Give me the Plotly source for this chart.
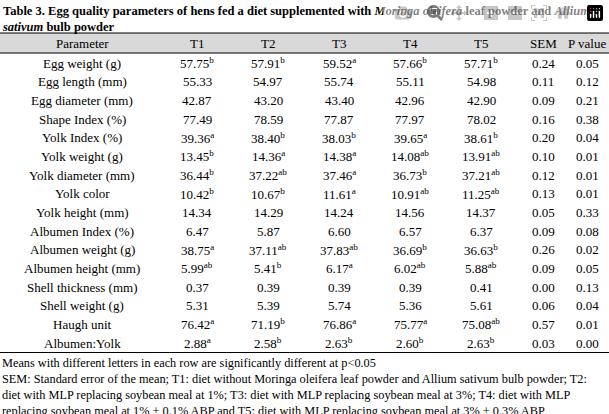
import plotly.graph_objects as go

parameters = ["Egg weight (g)", "Egg length (mm)", "Egg diameter (mm)", "Shape Index (%)",
              "Yolk Index (%)", "Yolk weight (g)", "Yolk diameter (mm)", "Yolk color",
              "Yolk height (mm)", "Albumen Index (%)", "Albumen weight (g)", "Albumen height (mm)",
              "Shell thickness (mm)", "Shell weight (g)", "Haugh unit", "Albumen:Yolk"]
t1 = ["57.75", "55.33", "42.87", "77.49", "39.36", "13.45", "36.44", "10.42", "14.34", "6.47", "38.75", "5.99", "0.37", "5.31", "76.42", "2.88"]
t1_sup = ["b", "", "", "", "a", "b", "b", "b", "", "", "a", "ab", "", "", "a", "a"]
t2 = ["57.91", "54.97", "43.20", "78.59", "38.40", "14.36", "37.22", "10.67", "14.29", "5.87", "37.11", "5.41", "0.39", "5.39", "71.19", "2.58"]
t2_sup = ["b", "", "", "", "b", "a", "ab", "b", "", "", "ab", "b", "", "", "b", "b"]
t3 = ["59.52", "55.74", "43.40", "77.87", "38.03", "14.38", "37.46", "11.61", "14.24", "6.60", "37.83", "6.17", "0.39", "5.74", "76.86", "2.63"]
t3_sup = ["a", "", "", "", "b", "a", "a", "a", "", "", "ab", "a", "", "", "a", "b"]
t4 = ["57.66", "55.11", "42.96", "77.97", "39.65", "14.08", "36.73", "10.91", "14.56", "6.57", "36.69", "6.02", "0.39", "5.36", "75.77", "2.60"]
t4_sup = ["b", "", "", "", "a", "ab", "b", "ab", "", "", "b", "ab", "", "", "a", "b"]
t5 = ["57.71", "54.98", "42.90", "78.02", "38.61", "13.91", "37.21", "11.25", "14.37", "6.37", "36.63", "5.88", "0.41", "5.61", "75.08", "2.63"]
t5_sup = ["b", "", "", "", "b", "ab", "ab", "ab", "", "", "b", "ab", "", "", "ab", "b"]
sem = ["0.24", "0.11", "0.09", "0.16", "0.20", "0.10", "0.12", "0.13", "0.05", "0.09", "0.26", "0.09", "0.00", "0.06", "0.57", "0.03"]
pval = ["0.05", "0.12", "0.21", "0.38", "0.04", "0.01", "0.01", "0.01", "0.33", "0.08", "0.02", "0.05", "0.13", "0.04", "0.01", "0.00"]
headers = ["Parameter", "T1", "T2", "T3", "T4", "T5", "SEM", "P value"]


def with_sup(vals, sups):
    return [v + ("<sup>%s</sup>" % s if s else "") for v, s in zip(vals, sups)]


FONT = "Liberation Serif"
W, H = 609, 414
cols = [parameters, with_sup(t1, t1_sup), with_sup(t2, t2_sup), with_sup(t3, t3_sup),
        with_sup(t4, t4_sup), with_sup(t5, t5_sup), sem, pval]
col_x = [82, 197, 268, 339, 410, 481, 543, 587]   # column centres (px)
head_top, head_bot, row_h = 33, 53, 18.67
first_row = 63

fig = go.Figure()
fig.add_shape(type="rect", x0=0, x1=W, y0=head_top, y1=head_bot, fillcolor="#d9d9d9", line_width=0, layer="below")
for yp in [head_top, head_bot, 352.5]:
    fig.add_shape(type="line", x0=0, x1=W, y0=yp, y1=yp, line=dict(color="black", width=1))

for x, h in zip(col_x, headers):
    fig.add_annotation(x=x, y=(head_top + head_bot) / 2, text=h, showarrow=False,
                       font=dict(family=FONT, size=13, color="black"))
for x, col in zip(col_x, cols):
    for i, v in enumerate(col):
        fig.add_annotation(x=x, y=first_row + i * row_h, text=v, showarrow=False,
                           font=dict(family=FONT, size=13, color="black"))

fig.add_annotation(x=0, y=2, xanchor="left", yanchor="top", align="left", showarrow=False,
                   font=dict(family=FONT, size=12.5, color="black"),
                   text="<b>Table 3. Egg quality parameters of hens fed a diet supplemented with <i>Moringa oleifera</i>"
                        " leaf powder and <i>Allium</i><br><i>sativum</i> bulb powder</b>")

fig.add_annotation(x=0, y=354, xanchor="left", yanchor="top", align="left", showarrow=False,
                   font=dict(family=FONT, size=12.3, color="black"),
                   text="Means with different letters in each row are significantly different at p<0.05<br>"
                        "SEM: Standard error of the mean; T1: diet without Moringa oleifera leaf powder and Allium sativum bulb powder; T2:<br>"
                        "diet with MLP replacing soybean meal at 1%; T3: diet with MLP replacing soybean meal at 3%; T4: diet with MLP<br>"
                        "replacing soybean meal at 1% + 0.1% ABP and T5: diet with MLP replacing soybean meal at 3% + 0.3% ABP")

fig.update_xaxes(range=[0, W], visible=False)
fig.update_yaxes(range=[H, 0], visible=False)
fig.update_layout(width=W, height=H, margin=dict(l=0, r=0, t=0, b=0),
                  paper_bgcolor="white", plot_bgcolor="white")
fig.write_html("out.html", post_script="document.body.style.margin='0';")
